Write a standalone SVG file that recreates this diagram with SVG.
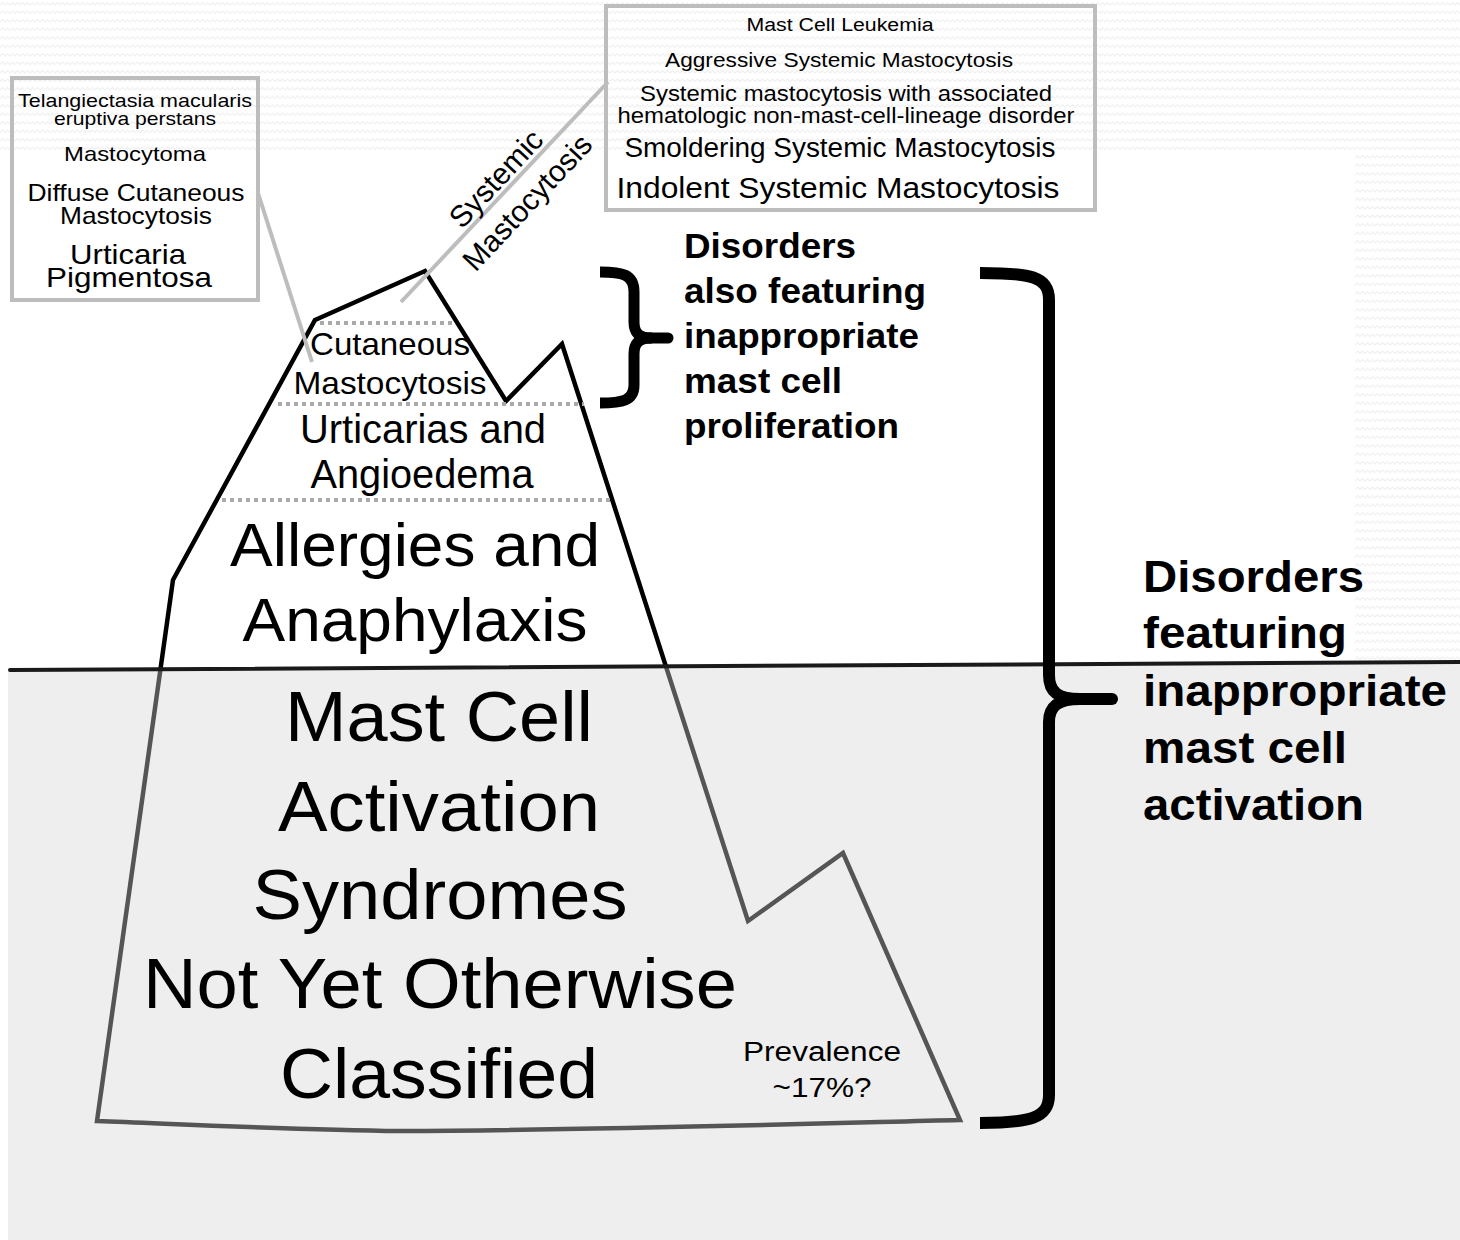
<svg xmlns="http://www.w3.org/2000/svg" width="1460" height="1240" viewBox="0 0 1460 1240">
<defs>
<pattern id="zz" width="10" height="8.5" patternUnits="userSpaceOnUse">
<path d="M0,5 L2.5,2.5 L5,5 L7.5,2.5 L10,5" fill="none" stroke="#ececec" stroke-width="1"/>
</pattern>
<style>
text{font-family:"Liberation Sans",Arial,Helvetica,sans-serif;fill:#000;}
.c{text-anchor:middle;}
.b{font-weight:bold;}
.box{fill:none;stroke:#bdbdbd;stroke-width:4;}
.lead{stroke:#bdbdbd;stroke-width:4;fill:none;}
.dot{stroke:#aaaaaa;stroke-width:4;stroke-dasharray:4 4;fill:none;}
.brace{fill:none;stroke:#000;stroke-linejoin:round;}
</style>
</defs>
<rect x="0" y="0" width="1460" height="1240" fill="#ffffff"/>
<rect x="0" y="0" width="1460" height="155" fill="url(#zz)"/>
<rect x="1355" y="155" width="105" height="509" fill="url(#zz)"/>

<g id="iceberg">
<path d="M315,320 L425,271 L506,401 L562,344 L748,921 L843,853 L960,1120 C800,1124 600,1130 400,1131 C300,1130 200,1125 97,1121 L173,580 Z" fill="#ffffff" stroke="#000" stroke-width="4.5" stroke-linejoin="miter"/>
<line class="dot" x1="320" y1="323" x2="452" y2="323"/>
<line class="dot" x1="278" y1="404" x2="584" y2="404"/>
<line class="dot" x1="222" y1="500" x2="614" y2="500"/>
</g>

<g id="connectors">
<line class="lead" x1="258" y1="193" x2="312" y2="362"/>
<line class="lead" x1="608" y1="82" x2="401" y2="302"/>
</g>

<g id="box-cutaneous">
<rect class="box" x="12" y="78" width="246" height="222"/>
<text class="c" x="135" y="107" font-size="19" textLength="234" lengthAdjust="spacingAndGlyphs">Telangiectasia macularis</text>
<text class="c" x="135" y="125" font-size="19" textLength="162" lengthAdjust="spacingAndGlyphs">eruptiva perstans</text>
<text class="c" x="135" y="161" font-size="21" textLength="142" lengthAdjust="spacingAndGlyphs">Mastocytoma</text>
<text class="c" x="136" y="201" font-size="24" textLength="217" lengthAdjust="spacingAndGlyphs">Diffuse Cutaneous</text>
<text class="c" x="136" y="224" font-size="24" textLength="152" lengthAdjust="spacingAndGlyphs">Mastocytosis</text>
<text class="c" x="128" y="264" font-size="28" textLength="116" lengthAdjust="spacingAndGlyphs">Urticaria</text>
<text class="c" x="129" y="287" font-size="28" textLength="166" lengthAdjust="spacingAndGlyphs">Pigmentosa</text>
</g>

<g id="box-systemic">
<rect class="box" x="606" y="6" width="489" height="204"/>
<text class="c" x="840" y="31" font-size="18" textLength="187" lengthAdjust="spacingAndGlyphs">Mast Cell Leukemia</text>
<text class="c" x="839" y="67" font-size="21" textLength="348" lengthAdjust="spacingAndGlyphs">Aggressive Systemic Mastocytosis</text>
<text class="c" x="846" y="101" font-size="22" textLength="412" lengthAdjust="spacingAndGlyphs">Systemic mastocytosis with associated</text>
<text class="c" x="846" y="123" font-size="22" textLength="457" lengthAdjust="spacingAndGlyphs">hematologic non-mast-cell-lineage disorder</text>
<text class="c" x="840" y="157" font-size="27" textLength="431" lengthAdjust="spacingAndGlyphs">Smoldering Systemic Mastocytosis</text>
<text class="c" x="838" y="198" font-size="30" textLength="443" lengthAdjust="spacingAndGlyphs">Indolent Systemic Mastocytosis</text>
</g>

<g id="label-systemic" transform="translate(510,189) rotate(-46.9)">
<text class="c" x="-2" y="-7" font-size="30">Systemic</text>
<text class="c" x="2" y="32" font-size="30">Mastocytosis</text>
</g>

<g id="tier-cutaneous">
<text class="c" x="390" y="355" font-size="32" textLength="160" lengthAdjust="spacingAndGlyphs">Cutaneous</text>
<text class="c" x="390" y="394" font-size="32" textLength="193" lengthAdjust="spacingAndGlyphs">Mastocytosis</text>
</g>
<g id="tier-urticarias">
<text class="c" x="423" y="443" font-size="40" textLength="246" lengthAdjust="spacingAndGlyphs">Urticarias and</text>
<text class="c" x="422" y="488" font-size="40" textLength="223" lengthAdjust="spacingAndGlyphs">Angioedema</text>
</g>
<g id="tier-allergies">
<text class="c" x="415" y="566" font-size="62" textLength="370" lengthAdjust="spacingAndGlyphs">Allergies and</text>
<text class="c" x="415" y="641" font-size="62" textLength="345" lengthAdjust="spacingAndGlyphs">Anaphylaxis</text>
</g>

<g id="water">
<polygon points="8,670 1460,662 1460,1240 8,1240" fill="#d4d4d4" fill-opacity="0.4"/>
<line x1="10" y1="670" x2="1460" y2="662" stroke="#1a1a1a" stroke-width="4" stroke-linecap="round"/>
</g>

<g id="tier-mcas">
<text class="c" x="439" y="741" font-size="71" textLength="308" lengthAdjust="spacingAndGlyphs">Mast Cell</text>
<text class="c" x="439" y="831" font-size="71" textLength="322" lengthAdjust="spacingAndGlyphs">Activation</text>
<text class="c" x="440" y="919" font-size="71" textLength="375" lengthAdjust="spacingAndGlyphs">Syndromes</text>
<text class="c" x="440" y="1008" font-size="71" textLength="594" lengthAdjust="spacingAndGlyphs">Not Yet Otherwise</text>
<text class="c" x="439" y="1098" font-size="71" textLength="318" lengthAdjust="spacingAndGlyphs">Classified</text>
</g>

<g id="prevalence">
<text class="c" x="822" y="1061" font-size="27" textLength="158" lengthAdjust="spacingAndGlyphs">Prevalence</text>
<text class="c" x="822" y="1097" font-size="27" textLength="99" lengthAdjust="spacingAndGlyphs">~17%?</text>
</g>

<g id="brace-proliferation">
<path class="brace" stroke-width="11" d="M600,272 C622,272 634,274 634,292 L634,322 C634,334 640,338 652,338 M652,338 C640,338 634,342 634,354 L634,385 C634,401 622,403 600,403"/>
<line x1="650" y1="338" x2="668" y2="338" stroke="#000" stroke-width="11" stroke-linecap="round"/>
<text class="b" x="684" y="258" font-size="35" textLength="172" lengthAdjust="spacingAndGlyphs">Disorders</text>
<text class="b" x="684" y="303" font-size="35" textLength="242" lengthAdjust="spacingAndGlyphs">also featuring</text>
<text class="b" x="684" y="348" font-size="35" textLength="235" lengthAdjust="spacingAndGlyphs">inappropriate</text>
<text class="b" x="684" y="393" font-size="35" textLength="158" lengthAdjust="spacingAndGlyphs">mast cell</text>
<text class="b" x="684" y="438" font-size="35" textLength="215" lengthAdjust="spacingAndGlyphs">proliferation</text>
</g>

<g id="brace-activation">
<path class="brace" stroke-width="12" d="M980,273 C1030,273 1049,276 1049,300 L1049,675 C1049,692 1058,699 1080,699 M1080,699 C1058,699 1049,706 1049,722 L1049,1095 C1049,1118 1030,1123 980,1123"/>
<line x1="1076" y1="699" x2="1112" y2="699" stroke="#000" stroke-width="12" stroke-linecap="round"/>
<text class="b" x="1143" y="592" font-size="44" textLength="221" lengthAdjust="spacingAndGlyphs">Disorders</text>
<text class="b" x="1143" y="648" font-size="44" textLength="204" lengthAdjust="spacingAndGlyphs">featuring</text>
<text class="b" x="1143" y="706" font-size="44" textLength="304" lengthAdjust="spacingAndGlyphs">inappropriate</text>
<text class="b" x="1143" y="763" font-size="44" textLength="204" lengthAdjust="spacingAndGlyphs">mast cell</text>
<text class="b" x="1143" y="820" font-size="44" textLength="221" lengthAdjust="spacingAndGlyphs">activation</text>
</g>
</svg>
